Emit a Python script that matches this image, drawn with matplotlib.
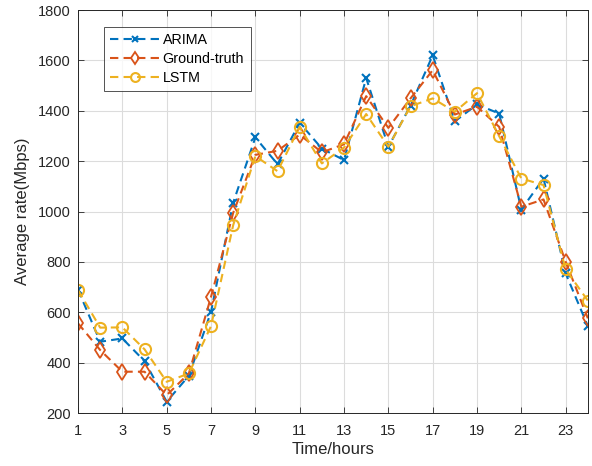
import matplotlib
matplotlib.use("Agg")
import matplotlib.pyplot as plt

plt.rcParams['font.family'] = ['Liberation Sans', 'DejaVu Sans']

hours = list(range(1, 25))
arima = [690, 483, 496, 406, 245, 348, 602, 1035, 1294, 1188, 1352, 1250, 1204, 1530, 1257, 1420,
         1620, 1358, 1425, 1389, 1008, 1131, 754, 545]
truth = [556, 450, 364, 364, 271, 357, 661, 995, 1225, 1241, 1305, 1235, 1267, 1458, 1332, 1449,
         1561, 1385, 1416, 1336, 1019, 1048, 800, 576]
lstm = [688, 539, 540, 453, 324, 357, 545, 946, 1220, 1160, 1336, 1191, 1254, 1387, 1257, 1418,
        1449, 1396, 1470, 1299, 1131, 1105, 770, 646]
xticks = list(range(1, 24, 2))
yticks = list(range(200, 1801, 200))

fig = plt.figure(figsize=(5.92, 4.66), dpi=100)
ax = fig.add_axes([0.1318, 0.1137, 0.8612, 0.8648])

dash = (4, 2.5)
ax.plot(hours, arima, color='#0072BD', linestyle='--', dashes=dash, marker='x', markersize=6,
        markeredgewidth=1.5, linewidth=1.5, label='ARIMA')
ax.plot(hours, truth, color='#D95319', linestyle='--', dashes=dash, marker='d', markersize=8,
        fillstyle='none', markeredgewidth=1.3, linewidth=1.5, label='Ground-truth')
ax.plot(hours, lstm, color='#EDB120', linestyle='--', dashes=dash, marker='o', markersize=8,
        fillstyle='none', markeredgewidth=1.5, linewidth=1.5, label='LSTM')

ax.set_xlim(1, 24)
ax.set_ylim(200, 1800)
ax.set_xticks(xticks)
ax.set_yticks(yticks)
ax.grid(True, color='#dcdcdc', linewidth=0.8)
ax.set_axisbelow(True)
ax.tick_params(direction='in', top=True, right=True, labelsize=10.5, colors='#262626',
               length=4, width=0.6)
ax.tick_params(axis='x', pad=8)
ax.tick_params(axis='y', pad=5)
for s in ax.spines.values():
    s.set_color('#262626')
    s.set_linewidth(0.7)
ax.set_xlabel('Time/hours', fontsize=12, color='#262626', labelpad=3)
ax.set_ylabel('Average rate(Mbps)', fontsize=12, color='#262626', labelpad=6)

leg = ax.legend(loc='upper left', bbox_to_anchor=(0.051, 0.9586), borderaxespad=0,
                fontsize=10.3, frameon=True, fancybox=False, edgecolor='#262626',
                handlelength=3.4, borderpad=0.45, labelspacing=0.33, handletextpad=0.25,
                markerscale=0.8)
leg.get_frame().set_linewidth(0.7)

fig.savefig('out.png', dpi=100)
